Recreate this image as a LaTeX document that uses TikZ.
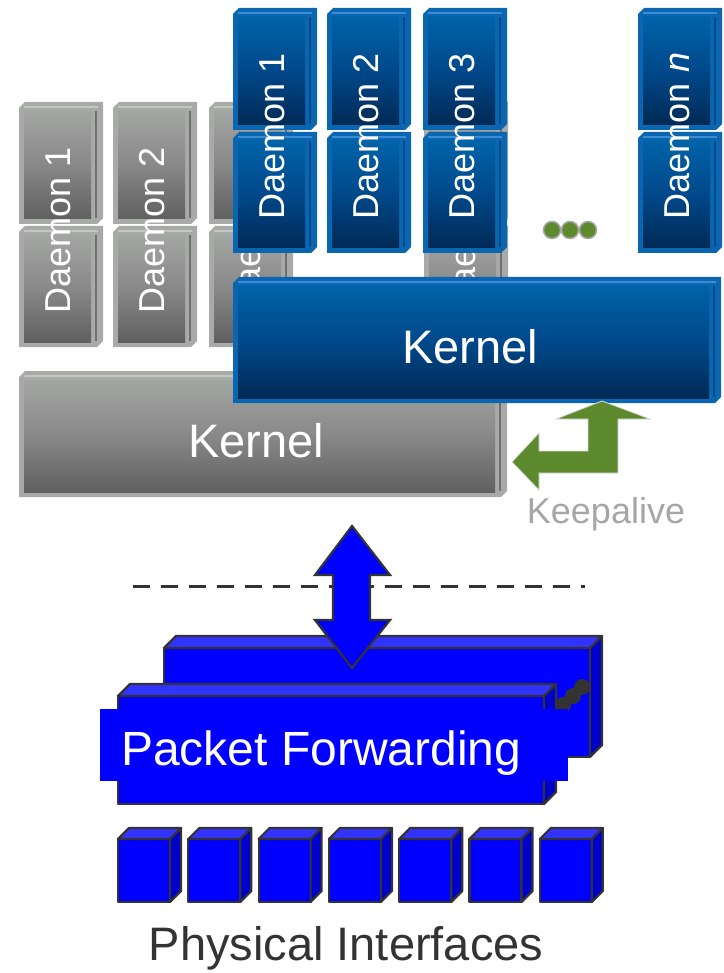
\documentclass[tikz,border=0pt]{standalone}
\usepackage{fontspec}
\setmainfont{Liberation Sans}

% palette
\definecolor{bEdge}{HTML}{0A66B0}
\definecolor{bTop}{HTML}{0063A8}
\definecolor{bMid}{HTML}{00488A}
\definecolor{bBot}{HTML}{002A55}
\definecolor{bHi}{HTML}{3D8BD0}
\definecolor{bLn}{HTML}{004A88}
\definecolor{gEdge}{HTML}{A8AAA8}
\definecolor{gTop}{HTML}{A4A6A4}
\definecolor{gMid}{HTML}{878887}
\definecolor{gBot}{HTML}{606060}
\definecolor{gHi}{HTML}{C4C6C4}
\definecolor{gLn}{HTML}{707070}
\definecolor{leaf}{HTML}{5E8A2E}
\definecolor{dotrim}{HTML}{A6A6A6}
\definecolor{ink}{HTML}{333333}
\definecolor{pfFront}{HTML}{0000FF}
\definecolor{pfTop}{HTML}{3333FF}
\definecolor{pfSide}{HTML}{0000CC}
\definecolor{kaGray}{HTML}{A6A6A6}

\tikzset{
  dlab/.style={text=white, font=\fontsize{36}{36}\selectfont, rotate=90, inner sep=0pt},
  klab/.style={text=white, font=\fontsize{47}{47}\selectfont, inner sep=0pt},
  dotnode/.style={circle, fill=leaf, draw=dotrim, line width=1.5pt, minimum size=17pt, inner sep=0pt},
  boxline/.style={draw=ink, line width=2.2pt, line join=round},
}

% bevelled block: corners (#1,#2) and (#3,#4), colours taken from edgec/facetop/facemid/facebot/hilc/lnc
\newcommand\dblk[4]{%
  \fill[edgec] (#1,#2+6) -- (#1+6,#2) -- (#3,#2) -- (#3,#4-6) -- (#3-6,#4) -- (#1,#4) -- cycle;
  \shade[top color=facetop, bottom color=facebot, middle color=facemid] (#1+5,#2+9) rectangle (#3-12,#4-5);
  \draw[hilc, line width=1.2pt] (#1+5,#2+5) -- (#3-5,#2+5);
  \draw[lnc, line width=1.2pt] (#3-7,#2+9) -- (#3-7,#4-6);
}
% one daemon column: two stacked blocks with a vertical label
\newcommand\dcol[4]{%
  \dblk{#3}{8}{#3+84}{130}
  \dblk{#3}{132}{#3+84}{253}
  \node[dlab] (#1#2) at (#3+39,136) {#4};
}
% a full control-plane layer
\newcommand\dlayer[1]{%
  \dcol{#1}{d1}{233}{Daemon 1}
  \dcol{#1}{d2}{327}{Daemon 2}
  \dcol{#1}{d3}{423}{Daemon 3}
  \dcol{#1}{dn}{638}{Daemon \textit{n}}
  \node[dotnode] (#1dotA) at (552,230) {};
  \node[dotnode] (#1dotB) at (570,230) {};
  \node[dotnode] (#1dotC) at (588,230) {};
  \dblk{233}{277}{721}{403}
  \node[klab] (#1kernel) at (470,347) {Kernel};
}
% extruded box: front face top-left (#1,#2), width #3, height #4, depth #5
\newcommand\pbox[5]{%
  \filldraw[boxline, fill=pfFront] (#1,#2) rectangle (#1+#3,#2+#4);
  \filldraw[boxline, fill=pfTop] (#1,#2) -- (#1+#5,#2-#5) -- (#1+#3+#5,#2-#5) -- (#1+#3,#2) -- cycle;
  \filldraw[boxline, fill=pfSide] (#1+#3,#2) -- (#1+#3+#5,#2-#5) -- (#1+#3+#5,#2+#4-#5) -- (#1+#3,#2+#4) -- cycle;
}

\begin{document}
\begin{tikzpicture}[x=1pt, y=-1pt]
\useasboundingbox (0,0) rectangle (723,973);

% standby control plane (grey), offset down-left
\begin{scope}[shift={(-214,94)}]
  \colorlet{edgec}{gEdge}\colorlet{facetop}{gTop}\colorlet{facemid}{gMid}
  \colorlet{facebot}{gBot}\colorlet{hilc}{gHi}\colorlet{lnc}{gLn}
  \dlayer{g}
\end{scope}

% active control plane (blue)
\begin{scope}
  \colorlet{edgec}{bEdge}\colorlet{facetop}{bTop}\colorlet{facemid}{bMid}
  \colorlet{facebot}{bBot}\colorlet{hilc}{bHi}\colorlet{lnc}{bLn}
  \dlayer{b}
\end{scope}

% keepalive arrow between the two kernels
\fill[leaf, draw=black!15, line width=0.8pt]
  (602,401) -- (650,419) -- (618,419) -- (618,473) -- (539,473) -- (539,490)
  -- (512,462) -- (539,433) -- (539,451) -- (588,451) -- (588,419) -- (556,419) -- cycle;
\node[font=\fontsize{36}{36}\selectfont, text=kaGray, anchor=base, inner sep=0pt] (keep) at (606,523) {Keepalive};

% boundary between control and forwarding planes
\coordinate (dashL) at (133,586);
\coordinate (dashR) at (585,586);
\draw[ink, line width=3pt, dash pattern=on 17pt off 11pt] (dashL) -- (dashR);

% forwarding engines
\pbox{164}{648}{426}{109}{12}

% control <-> forwarding link
\filldraw[fill=pfFront, draw=ink, line width=2.2pt, line join=miter]
  (352,526) -- (390,575) -- (370,575) -- (370,620) -- (390,620) -- (352,668)
  -- (315,620) -- (333,620) -- (333,575) -- (315,575) -- cycle;

\pbox{118}{696}{426}{108}{12}
\fill[ink] (563,705) circle (8pt) (573,696) circle (8pt) (582,687) circle (8pt);

\fill[pfFront] (100,709) rectangle (568,781);
\node[font=\fontsize{48}{48}\selectfont, text=white, anchor=base west, inner sep=0pt] (pf) at (121,765) {Packet Forwarding};

% physical ports
\foreach \i in {0,...,6} {
  \pbox{118+70.3*\i}{839}{52}{63}{11}
}
\node[font=\fontsize{47}{47}\selectfont, text=ink, anchor=base, inner sep=0pt] (phys) at (346,960) {Physical Interfaces};
\end{tikzpicture}
\end{document}
